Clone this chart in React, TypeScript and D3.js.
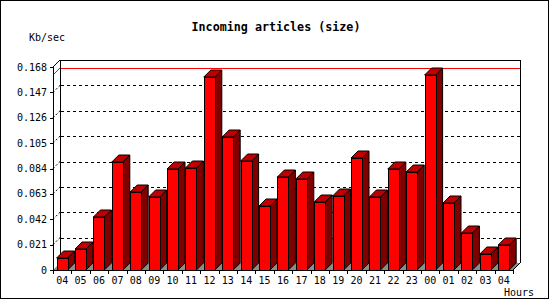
import React from "react";
import * as d3 from "d3";

const hours = ["04","05","06","07","08","09","10","11","12","13","14","15","16","17","18","19","20","21","22","23","00","01","02","03","04"];
const values = [0.0097,0.0171,0.0436,0.0896,0.0648,0.0607,0.0833,0.0847,0.1600,0.1098,0.0902,0.0530,0.0767,0.0750,0.0565,0.0612,0.0924,0.0601,0.0833,0.0808,0.1614,0.0557,0.0303,0.0130,0.0204];
const yTicks = [0,0.021,0.042,0.063,0.084,0.105,0.126,0.147,0.168];
const title = "Incoming articles (size)";
const yUnit = "Kb/sec";
const xUnit = "Hours";

const W = 550, H = 300;
const L = 53, R = 513, B = 270, T = 67;
const D = 7; // 3D depth
const FRONT = "#ff0000", SIDE = "#800000", TOP = "#c00000", FLOOR = "#8c8c8c";
const mono = "'DejaVu Sans Mono', 'Liberation Mono', monospace";

export default function App() {
  const x = d3.scaleBand<number>().domain(hours.map((_, i) => i)).range([L, R]).padding(0);
  const y = d3.scaleLinear().domain([0, 0.168]).range([B, T]);
  const bw = x.bandwidth();
  const faceW = 11;
  const off = 3.6;
  const maxV = d3.max(values) as number;
  const yMax = y(maxV);

  return (
    <svg width={W} height={H} style={{ position: "absolute", left: 0, top: 0, background: "#fff" }} shapeRendering="crispEdges">
      <rect x={0.5} y={0.5} width={548} height={298} fill="#fff" stroke="#000" />
      <text x={276} y={31} textAnchor="middle" fontFamily={mono} fontWeight="bold" fontSize={11.7}>{title}</text>
      <text x={29} y={41} fontFamily={mono} fontSize={10}>{yUnit}</text>

      {/* floor */}
      <polygon points={`${L},${B} ${L + D},${B - D} ${R + D},${B - D} ${R},${B}`} fill={FLOOR} shapeRendering="auto" />

      {/* back walls */}
      <line x1={L + D + 0.5} y1={T - D} x2={L + D + 0.5} y2={B - D} stroke="#000" />
      <line x1={L + D} y1={T - D + 0.5} x2={R + D} y2={T - D + 0.5} stroke="#000" />
      <line x1={R + D + 0.5} y1={T - D} x2={R + D + 0.5} y2={B - D} stroke="#000" />
      <line x1={L} y1={T} x2={L + D} y2={T - D} stroke="#000" shapeRendering="auto" />
      <line x1={R} y1={B} x2={R + D} y2={B - D} stroke="#000" shapeRendering="auto" />

      {/* grid */}
      {yTicks.filter((t) => t > 0 && t < 0.168).map((t, i) => (
        <g key={"g" + i}>
          <line x1={L + D + 1} x2={R + D} y1={Math.round(y(t)) - D + 0.5} y2={Math.round(y(t)) - D + 0.5} stroke="#000" strokeDasharray="3,3" />
          <line x1={L} x2={L + D} y1={y(t)} y2={y(t) - D} stroke="#000" strokeDasharray="2,2" shapeRendering="auto" />
        </g>
      ))}

      {/* max line */}
      <line x1={L + D + 1} x2={R + D} y1={Math.round(yMax) - D + 0.5} y2={Math.round(yMax) - D + 0.5} stroke="#ff0000" />
      <line x1={L} x2={L + D} y1={yMax} y2={yMax - D} stroke="#ff0000" shapeRendering="auto" />

      {/* bars */}
      {values.map((v, i) => {
        const x0 = (x(i) as number) + off;
        const x1 = x0 + faceW;
        const yt = Math.round(y(v));
        return (
          <g key={"b" + i} stroke="#000" strokeWidth={1}>
            <polygon points={`${x1},${yt} ${x1 + D},${yt - D} ${x1 + D},${B - D} ${x1},${B}`} fill={SIDE} shapeRendering="auto" strokeLinejoin="round" />
            <polygon points={`${x0},${yt} ${x0 + D},${yt - D} ${x1 + D},${yt - D} ${x1},${yt}`} fill={TOP} shapeRendering="auto" strokeLinejoin="round" />
            <rect x={x0 + 0.5} y={yt + 0.5} width={faceW} height={B - yt} fill={FRONT} />
          </g>
        );
      })}

      {/* axes */}
      <line x1={L + 0.5} y1={T} x2={L + 0.5} y2={B + 1} stroke="#000" />
      <line x1={L} y1={B + 0.5} x2={R + 1} y2={B + 0.5} stroke="#000" />
      {yTicks.map((t, i) => (
        <g key={"yt" + i}>
          <line x1={L - 3} x2={L} y1={Math.round(y(t)) + 0.5} y2={Math.round(y(t)) + 0.5} stroke="#000" />
          <text x={L - 6} y={y(t) + 3.5} textAnchor="end" fontFamily={mono} fontSize={10}>{t === 0 ? "0" : t.toFixed(3)}</text>
        </g>
      ))}
      {hours.map((h, i) => (
        <g key={"xt" + i}>
          <line x1={Math.round(x(i) as number) + 0.5} x2={Math.round(x(i) as number) + 0.5} y1={B} y2={B + 4} stroke="#000" />
          <text x={(x(i) as number) + bw / 2} y={284} textAnchor="middle" fontFamily={mono} fontSize={10}>{h}</text>
        </g>
      ))}
      <line x1={Math.round(R) + 0.5} x2={Math.round(R) + 0.5} y1={B} y2={B + 4} stroke="#000" />
      <text x={504} y={296} fontFamily={mono} fontSize={10}>{xUnit}</text>
    </svg>
  );
}
